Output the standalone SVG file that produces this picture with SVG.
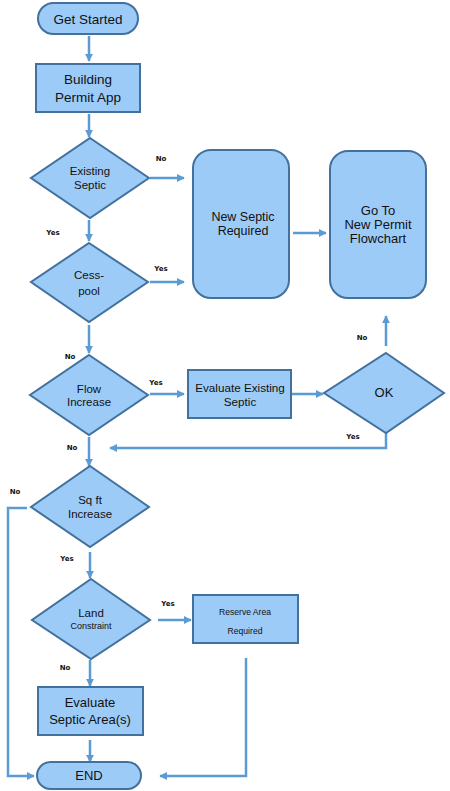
<svg xmlns="http://www.w3.org/2000/svg" width="450" height="791" viewBox="0 0 450 791">
<defs>
<marker id="ah" viewBox="0 0 10 10" refX="9" refY="5" markerWidth="3.2" markerHeight="3.2" orient="auto" markerUnits="strokeWidth">
<path d="M0,0 L10,5 L0,10 z" fill="#5B9BD5"/>
</marker>
<style>
.sh{fill:#9DCBF8;stroke:#41719C;stroke-width:2}
.t{font-family:"Liberation Sans",Arial,sans-serif;fill:#111;text-anchor:middle}
.c{fill:none;stroke:#5B9BD5;stroke-width:2.5}
.a{marker-end:url(#ah)}
.l{font-family:"DejaVu Sans","Liberation Sans",sans-serif;font-weight:bold;font-size:7px;fill:#111;text-anchor:middle}
</style>
</defs>
<rect width="450" height="791" fill="#fff"/>
<g id="connectors">
<line class="c a" x1="89" y1="36" x2="89" y2="61"/>
<line class="c a" x1="89" y1="114" x2="89" y2="137"/>
<line class="c a" x1="150" y1="178" x2="184" y2="178"/>
<line class="c a" x1="89" y1="220" x2="89" y2="241"/>
<line class="c a" x1="150" y1="282" x2="184" y2="282"/>
<line class="c a" x1="293" y1="233" x2="326" y2="233"/>
<line class="c a" x1="89" y1="325" x2="89" y2="353"/>
<line class="c a" x1="150" y1="394" x2="184" y2="394"/>
<line class="c a" x1="292" y1="394" x2="323" y2="394"/>
<line class="c a" x1="386" y1="346" x2="386" y2="316"/>
<polyline class="c a" points="386,433 386,448 110,448"/>
<line class="c a" x1="89" y1="437" x2="89" y2="466"/>
<polyline class="c a" points="27,508 8,508 8,776 34,776"/>
<line class="c a" x1="90" y1="552" x2="90" y2="578"/>
<line class="c a" x1="158" y1="620" x2="191" y2="620"/>
<polyline class="c a" points="246,658 246,776 160,776"/>
<line class="c a" x1="90" y1="660" x2="90" y2="686"/>
<line class="c a" x1="90" y1="740" x2="90" y2="762"/>
</g>
<g id="labels">
<text class="l" x="161" y="161">No</text>
<text class="l" x="53" y="235">Yes</text>
<text class="l" x="161" y="271">Yes</text>
<text class="l" x="70" y="359">No</text>
<text class="l" x="156" y="385">Yes</text>
<text class="l" x="362" y="340">No</text>
<text class="l" x="353" y="439">Yes</text>
<text class="l" x="72" y="450">No</text>
<text class="l" x="15" y="494">No</text>
<text class="l" x="67" y="561">Yes</text>
<text class="l" x="168" y="606">Yes</text>
<text class="l" x="65" y="670">No</text>
</g>
<g id="get-started">
<rect class="sh" x="38" y="3" width="100" height="31" rx="15.5"/>
<text class="t" x="88" y="24" font-size="13.5">Get Started</text>
</g>
<g id="building-permit">
<rect class="sh" x="36" y="64" width="104" height="48"/>
<text class="t" x="88" y="84" font-size="13.5">Building</text>
<text class="t" x="88" y="102" font-size="13.5">Permit App</text>
</g>
<g id="existing-septic">
<polygon class="sh" points="90,138 149,178 90,218 31,178"/>
<text class="t" x="90" y="175" font-size="11.5">Existing</text>
<text class="t" x="90" y="189" font-size="11.5">Septic</text>
</g>
<g id="new-septic">
<rect class="sh" x="193" y="150" width="96" height="148" rx="18"/>
<text class="t" x="243" y="221" font-size="12.5">New Septic</text>
<text class="t" x="243" y="235" font-size="12.5">Required</text>
</g>
<g id="new-permit">
<rect class="sh" x="330" y="151" width="96" height="147" rx="18"/>
<text class="t" x="378" y="215" font-size="13">Go To</text>
<text class="t" x="378" y="229" font-size="13">New Permit</text>
<text class="t" x="378" y="243" font-size="13">Flowchart</text>
</g>
<g id="cesspool">
<polygon class="sh" points="89,243 148,282 89,322 31,282"/>
<text class="t" x="89" y="279" font-size="11.5">Cess-</text>
<text class="t" x="89" y="295" font-size="11.5">pool</text>
</g>
<g id="flow-increase">
<polygon class="sh" points="89,355 148,395 89,435 30,395"/>
<text class="t" x="89" y="393" font-size="11.5">Flow</text>
<text class="t" x="89" y="406" font-size="11.5">Increase</text>
</g>
<g id="evaluate-existing">
<rect class="sh" x="188" y="370" width="103" height="48"/>
<text class="t" x="240" y="392" font-size="11.7">Evaluate Existing</text>
<text class="t" x="240" y="406" font-size="11.7">Septic</text>
</g>
<g id="ok">
<polygon class="sh" points="386,353 444,393 386,433 324,393"/>
<text class="t" x="384" y="397" font-size="13">OK</text>
</g>
<g id="sqft-increase">
<polygon class="sh" points="90,466 149,507 90,547 31,507"/>
<text class="t" x="90" y="504" font-size="11.5">Sq ft</text>
<text class="t" x="90" y="518" font-size="11.5">Increase</text>
</g>
<g id="land-constraint">
<polygon class="sh" points="91,579 150,620 91,659 32,620"/>
<text class="t" x="91" y="617" font-size="11.5">Land</text>
<text class="t" x="91" y="629" font-size="9">Constraint</text>
</g>
<g id="reserve-area">
<rect class="sh" x="193" y="595" width="105" height="48"/>
<text class="t" x="245" y="615" font-size="8.6">Reserve Area</text>
<text class="t" x="245" y="634" font-size="8.6">Required</text>
</g>
<g id="evaluate-septic-area">
<rect class="sh" x="38" y="687" width="105" height="48"/>
<text class="t" x="90" y="707" font-size="13">Evaluate</text>
<text class="t" x="90" y="724" font-size="13">Septic Area(s)</text>
</g>
<g id="end">
<rect class="sh" x="37" y="762" width="104" height="27" rx="13.5"/>
<text class="t" x="89" y="780" font-size="13">END</text>
</g>
</svg>
